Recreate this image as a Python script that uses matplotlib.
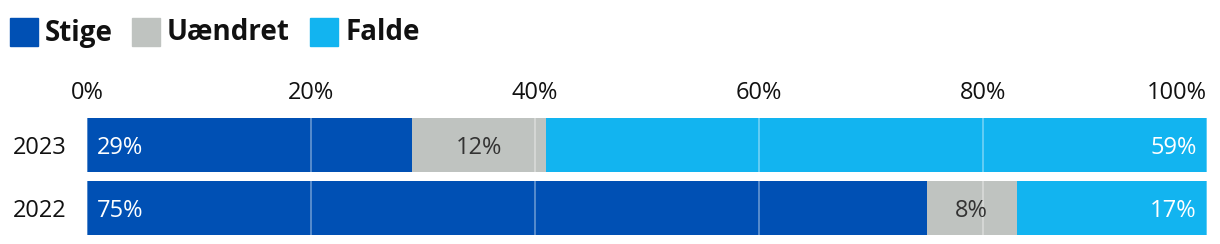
import matplotlib
matplotlib.use("Agg")
import matplotlib.pyplot as plt
from matplotlib.patches import Rectangle

plt.rcParams['font.family'] = ['Open Sans', 'DejaVu Sans']

# data
years = ['2023', '2022']
stige = [29, 75]
uaendret = [12, 8]
falde = [59, 17]
series_names = ['Stige', 'Uændret', 'Falde']
colors = ['#0050B4', '#BFC3C0', '#12B4F0']
label_colors = ['white', '#333333', 'white']
ticks = [0, 20, 40, 60, 80, 100]

W, H = 1220, 244
fig = plt.figure(figsize=(W / 100, H / 100), dpi=100)
ax = fig.add_axes([87 / W, 1 - 239.5 / H, 1120 / W, 126 / H])

ypos = list(range(len(years)))
left = [0] * len(years)
for vals, col in zip([stige, uaendret, falde], colors):
    ax.barh(ypos, vals, left=left, height=54 / 63, color=col, zorder=2)
    left = [l + v for l, v in zip(left, vals)]

# value labels
for i in ypos:
    ax.text(0.9, i, f'{stige[i]}%', color=label_colors[0], fontsize=17,
            va='center_baseline', ha='left', zorder=4)
    ax.text(stige[i] + uaendret[i] / 2, i, f'{uaendret[i]}%', color=label_colors[1],
            fontsize=17, va='center_baseline', ha='center', zorder=4)
    ax.text(100 - 0.9, i, f'{falde[i]}%', color=label_colors[2], fontsize=17,
            va='center_baseline', ha='right', zorder=4)

ax.set_xlim(0, 100)
ax.set_ylim(len(years) - 0.5, -0.5)
ax.set_xticks(ticks)
ax.set_xticklabels([f'{t}%' for t in ticks], fontsize=17, color='#111111')
ax.set_yticks(ypos)
ax.set_yticklabels(years, fontsize=17, color='#111111')
ax.xaxis.tick_top()
ax.tick_params(axis='x', length=0, pad=6)
ax.tick_params(axis='y', length=0, pad=15)
# last tick label flush with the right edge
ax.xaxis.get_major_ticks()[-1].label2.set_horizontalalignment('right')
for s in ax.spines.values():
    s.set_visible(False)

ax.set_axisbelow(False)
ax.grid(axis='x', color='white', alpha=0.4, linewidth=1.2, zorder=3)
ax.grid(axis='y', visible=False)

# legend
legend_x = [10, 132, 310]
for name, col, x in zip(series_names, colors, legend_x):
    fig.patches.append(Rectangle((x / W, 1 - 46 / H), 28 / W, 28 / H,
                                 transform=fig.transFigure, color=col))
    fig.text((x + 35) / W, 1 - 33 / H, name, fontsize=20, fontweight='bold',
             va='center', ha='left', color='#111111')

fig.savefig('out.png', dpi=100)
